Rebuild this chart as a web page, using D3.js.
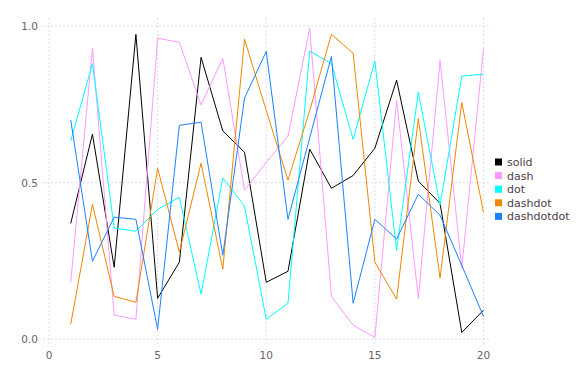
<!DOCTYPE html>
<html>
<head>
<meta charset="utf-8">
<script src="https://cdn.jsdelivr.net/npm/d3@7"></script>
<style>
  body { margin: 0; background: #fff; }
  text { font-family: "DejaVu Sans", sans-serif; }
</style>
</head>
<body>
<svg id="chart" width="576" height="384"></svg>
<script>
// data
const xs = d3.range(1, 21);
const solid      = [0.370, 0.655, 0.230, 0.973, 0.131, 0.246, 0.900, 0.665, 0.597, 0.182, 0.217, 0.607, 0.482, 0.523, 0.610, 0.827, 0.505, 0.434, 0.022, 0.093];
const dash       = [0.182, 0.929, 0.077, 0.064, 0.961, 0.948, 0.748, 0.897, 0.476, 0.565, 0.648, 0.993, 0.137, 0.045, 0.006, 0.763, 0.131, 0.890, 0.227, 0.929];
const dot        = [0.633, 0.880, 0.355, 0.345, 0.415, 0.453, 0.144, 0.515, 0.425, 0.064, 0.115, 0.920, 0.880, 0.638, 0.888, 0.284, 0.789, 0.428, 0.840, 0.846];
const dashdot    = [0.048, 0.431, 0.137, 0.118, 0.546, 0.278, 0.562, 0.224, 0.958, 0.730, 0.508, 0.730, 0.974, 0.913, 0.246, 0.128, 0.705, 0.195, 0.756, 0.405];
const dashdotdot = [0.700, 0.249, 0.390, 0.383, 0.032, 0.683, 0.693, 0.268, 0.770, 0.919, 0.383, 0.643, 0.903, 0.115, 0.383, 0.320, 0.463, 0.396, 0.236, 0.073];
const names = ["solid", "dash", "dot", "dashdot", "dashdotdot"];
const colors = ["#000000", "#ff99ff", "#00ffff", "#ee8800", "#1a82ff"];
const xTicks = [0, 5, 10, 15, 20];
const yTicks = [0, 0.5, 1.0];

const allSeries = [solid, dash, dot, dashdot, dashdotdot];

const svg = d3.select("#chart");
const x = d3.scaleLinear().domain([0, 20]).range([49, 483.5]);
const y = d3.scaleLinear().domain([0, 1]).range([339.3, 26]);

const panel = {left: 43, right: 490, top: 18, bottom: 345};

// grid
const grid = svg.append("g").attr("stroke", "#d0d0e0").attr("stroke-width", 0.7)
  .attr("stroke-dasharray", "2,2");
grid.selectAll(".vx").data(xTicks).enter().append("line")
  .attr("x1", d => x(d)).attr("x2", d => x(d))
  .attr("y1", panel.top).attr("y2", panel.bottom);
grid.selectAll(".hy").data(yTicks).enter().append("line")
  .attr("x1", panel.left).attr("x2", panel.right)
  .attr("y1", d => y(d)).attr("y2", d => y(d));

// tick labels
svg.append("g").selectAll("text").data(xTicks).enter().append("text")
  .attr("x", d => x(d)).attr("y", 359)
  .attr("text-anchor", "middle")
  .attr("font-size", 10.5).attr("fill", "#6c606b")
  .text(d => d);
svg.append("g").selectAll("text").data(yTicks).enter().append("text")
  .attr("x", 38).attr("y", d => y(d) + 4)
  .attr("text-anchor", "end")
  .attr("font-size", 10.5).attr("fill", "#6c606b")
  .text(d => d3.format(".1f")(d));

// lines
const line = d3.line().x((d, i) => x(xs[i])).y(d => y(d));
svg.append("g").selectAll("path").data(allSeries).enter().append("path")
  .attr("d", d => line(d))
  .attr("fill", "none")
  .attr("stroke", (d, i) => colors[i])
  .attr("stroke-width", 1);

// legend
const key = svg.append("g").selectAll("g").data(names).enter().append("g")
  .attr("transform", (d, i) => `translate(495,${162 + i * 13.6})`);
key.append("rect")
  .attr("x", 0).attr("y", -3.5).attr("width", 7).attr("height", 7)
  .attr("fill", (d, i) => colors[i]);
key.append("text")
  .attr("x", 12).attr("y", 4)
  .attr("font-size", 11).attr("fill", "#4c404b")
  .text(d => d);
</script>
</body>
</html>
